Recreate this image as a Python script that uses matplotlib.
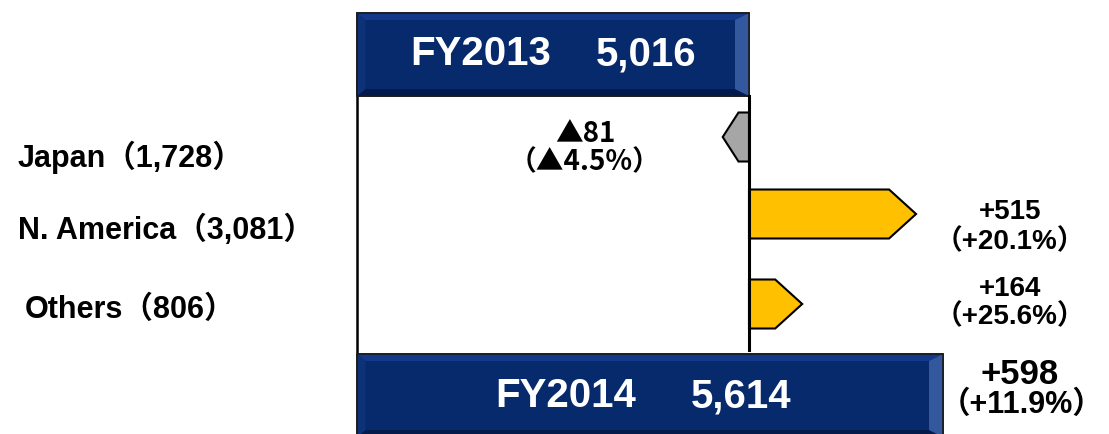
import matplotlib
matplotlib.use("Agg")
import matplotlib.pyplot as plt
from matplotlib.patches import Polygon, Rectangle

# data
years = ["FY2013", "FY2014"]
totals = [5016, 5614]
regions = ["Japan", "N. America", "Others"]
region_sales = ["1,728", "3,081", "806"]
changes = [-81, 515, 164]
change_labels = ["▲81", "+515", "+164"]
pct_labels = ["（▲4.5%）", "（+20.1%）", "（+25.6%）"]
total_change = "+598"
total_pct = "（+11.9%）"

FONT = ["Liberation Sans", "Noto Sans CJK JP", "DejaVu Sans"]
CJK = ["Noto Sans CJK JP", "DejaVu Sans"]
plt.rcParams["font.family"] = FONT
plt.rcParams["font.weight"] = "bold"

W, H = 1109, 434
fig = plt.figure(figsize=(W / 100, H / 100), dpi=100)
ax = fig.add_axes([0, 0, 1, 1])

# horizontal scale: FY2013 at px 749, FY2014 at px 943 (axis is broken on the left)
k = (totals[1] - totals[0]) / (943 - 749)
ax.set_xlim(totals[0] - 749 * k, totals[0] + (W - 749) * k)
ax.set_ylim(H, 0)
ax.axis("off")
base = totals[0] - 392 * k   # left edge of the boxes


def fx(px):
    return px / W


def fy(py):
    return 1 - py / H


def bevel_box(y0, y1, value):
    x0, x1 = base, value
    bw = 14 * k
    bh = 7
    ax.add_patch(Rectangle((x0, y0), x1 - x0, y1 - y0, facecolor="#072a6c",
                           edgecolor="#222222", lw=1.2, zorder=3))
    # bevel faces
    ax.add_patch(Polygon([(x0, y0), (x1, y0), (x1 - bw, y0 + bh), (x0 + bw * 0.6, y0 + bh)],
                         closed=True, facecolor="#14398a", edgecolor="none", zorder=4))
    ax.add_patch(Polygon([(x0, y1), (x1, y1), (x1 - bw, y1 - bh), (x0 + bw * 0.6, y1 - bh)],
                         closed=True, facecolor="#041a4a", edgecolor="none", zorder=4))
    ax.add_patch(Polygon([(x1, y0), (x1, y1), (x1 - bw, y1 - bh), (x1 - bw, y0 + bh)],
                         closed=True, facecolor="#33589e", edgecolor="none", zorder=4))
    ax.add_patch(Polygon([(x0, y0), (x0, y1), (x0 + bw * 0.6, y1 - bh), (x0 + bw * 0.6, y0 + bh)],
                         closed=True, facecolor="#0d3278", edgecolor="none", zorder=4))
    ax.add_patch(Rectangle((x0, y0), x1 - x0, y1 - y0, facecolor="none",
                           edgecolor="#1a1a1a", lw=1.2, zorder=5))


# connector frame
ax.plot([base, base], [80, 356], color="black", lw=1.8, zorder=2)
ax.plot([totals[0], totals[0]], [96, 350], color="black", lw=2.2, zorder=6)

bevel_box(13, 96, totals[0])
bevel_box(354, 437, totals[1])

# region arrows
centers = [137, 214, 304]
hh = 24.5
for c, yc in zip(changes, centers):
    start = totals[0]
    end = start + c
    head = min(27 * k, abs(c) * 0.6)
    sgn = 1 if c > 0 else -1
    pts = [(start, yc - hh), (end - sgn * head, yc - hh), (end, yc),
           (end - sgn * head, yc + hh), (start, yc + hh)]
    col = "#FFC000" if c > 0 else "#A6A6A6"
    ax.add_patch(Polygon(pts, closed=True, facecolor=col, edgecolor="black",
                         lw=1.5, zorder=5))

# box labels
fig.text(fx(481), fy(54), years[0], color="white", fontsize=29, ha="center", va="center")
fig.text(fx(646), fy(54), f"{totals[0]:,}", color="white", fontsize=29, ha="center", va="center")
fig.text(fx(566), fy(396), years[1], color="white", fontsize=29, ha="center", va="center")
fig.text(fx(741), fy(396), f"{totals[1]:,}", color="white", fontsize=29, ha="center", va="center")

# region labels on the left
label_pos = [(18, 157), (18, 230), (25, 310)]
for name, sales, (lx, ly) in zip(regions, region_sales, label_pos):
    fig.text(fx(lx), fy(ly), f"{name}（{sales}）", fontsize=22, ha="left", va="center")

# change labels
change_pos = [(585, 134, 585, 162), (1010, 212, 1010, 242), (1010, 289, 1010, 317)]
for cl, pl, (x1, y1, x2, y2) in zip(change_labels, pct_labels, change_pos):
    fam = CJK if "▲" in cl else FONT
    fig.text(fx(x1), fy(y1), cl, fontsize=20, ha="center", va="center", family=fam)
    fig.text(fx(x2), fy(y2), pl, fontsize=20, ha="center", va="center", family=fam)

fig.text(fx(1020), fy(375), total_change, fontsize=25, ha="center", va="center")
fig.text(fx(1022), fy(405), total_pct, fontsize=22, ha="center", va="center")

fig.savefig("out.png", dpi=100, facecolor="white")
